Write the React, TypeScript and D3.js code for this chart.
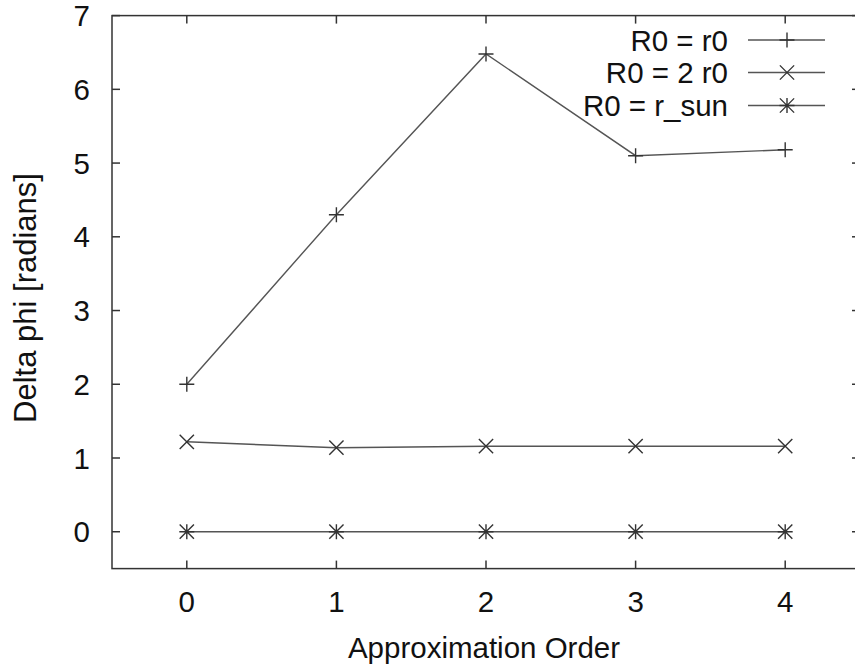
import React, { useEffect, useRef } from "react";
import * as d3 from "d3";

const orders = [0, 1, 2, 3, 4];
const seriesR0 = [2.0, 4.3, 6.48, 5.1, 5.18];
const series2R0 = [1.22, 1.14, 1.16, 1.16, 1.16];
const seriesSun = [0, 0, 0, 0, 0];
const legendLabels = ["R0 = r0", "R0 = 2 r0", "R0 = r_sun"];
const markerTypes = ["plus", "cross", "star"];
const yTicks = [0, 1, 2, 3, 4, 5, 6, 7];

const W = 855;
const H = 669;
const FONT = "'Liberation Sans', Arial, sans-serif";

const App: React.FC = () => {
  const svgRef = useRef<SVGSVGElement>(null);

  useEffect(() => {
    if (!svgRef.current) return;
    const svg = d3.select(svgRef.current);
    svg.selectAll("*").remove();

    const left = 112;
    const right = 860;
    const top = 15.6;
    const bottom = 568.6;

    const x = d3.scaleLinear().domain([-0.5, 4.5]).range([left, right]);
    const y = d3.scaleLinear().domain([-0.5, 7]).range([bottom, top]);

    const frameColor = "#333";
    const lineColor = "#555";
    const fs = 29.5;

    // markers
    const drawMarker = (g: any, type: string, cx: number, cy: number) => {
      const s = 7.5;
      const p = d3.path();
      if (type === "plus" || type === "star") {
        p.moveTo(cx - s, cy);
        p.lineTo(cx + s, cy);
        p.moveTo(cx, cy - s);
        p.lineTo(cx, cy + s);
      }
      if (type === "cross" || type === "star") {
        const d = s * 0.95;
        p.moveTo(cx - d, cy - d);
        p.lineTo(cx + d, cy + d);
        p.moveTo(cx - d, cy + d);
        p.lineTo(cx + d, cy - d);
      }
      g.append("path")
        .attr("d", p.toString())
        .attr("stroke", "#333")
        .attr("stroke-width", 1.4)
        .attr("fill", "none");
    };

    // frame
    svg.append("rect")
      .attr("x", left)
      .attr("y", top)
      .attr("width", right - left)
      .attr("height", bottom - top)
      .attr("fill", "none")
      .attr("stroke", frameColor)
      .attr("stroke-width", 1.5);

    const tl = 8;
    const ticks = svg.append("g").attr("stroke", frameColor).attr("stroke-width", 1.5);
    yTicks.forEach(t => {
      ticks.append("line").attr("x1", left).attr("x2", left + tl).attr("y1", y(t)).attr("y2", y(t));
      ticks.append("line").attr("x1", right).attr("x2", right - tl).attr("y1", y(t)).attr("y2", y(t));
      svg.append("text")
        .attr("x", 90)
        .attr("y", y(t))
        .attr("dy", "0.36em")
        .attr("text-anchor", "end")
        .style("font-family", FONT)
        .style("font-size", `${fs}px`)
        .attr("fill", "#111")
        .text(t);
    });
    orders.forEach(t => {
      ticks.append("line").attr("x1", x(t)).attr("x2", x(t)).attr("y1", bottom).attr("y2", bottom - tl);
      ticks.append("line").attr("x1", x(t)).attr("x2", x(t)).attr("y1", top).attr("y2", top + tl);
      svg.append("text")
        .attr("x", x(t))
        .attr("y", 612)
        .attr("text-anchor", "middle")
        .style("font-family", FONT)
        .style("font-size", `${fs}px`)
        .attr("fill", "#111")
        .text(t);
    });

    // axis titles
    svg.append("text")
      .attr("x", (left + 856) / 2)
      .attr("y", 658)
      .attr("text-anchor", "middle")
      .style("font-family", FONT)
      .style("font-size", `${fs}px`)
      .attr("fill", "#111")
      .text("Approximation Order");

    svg.append("text")
      .attr("transform", `translate(36,298) rotate(-90)`)
      .attr("text-anchor", "middle")
      .style("font-family", FONT)
      .style("font-size", "31px")
      .attr("fill", "#111")
      .text("Delta phi [radians]");

    // series
    const allSeries = [seriesR0, series2R0, seriesSun];
    const line = d3.line<number>()
      .x((_, i) => x(orders[i]))
      .y(d => y(d));

    allSeries.forEach((vals, si) => {
      const g = svg.append("g");
      g.append("path")
        .attr("d", line(vals)!)
        .attr("fill", "none")
        .attr("stroke", lineColor)
        .attr("stroke-width", 1.4);
      vals.forEach((v, i) => drawMarker(g, markerTypes[si], x(orders[i]), y(v)));
    });

    // legend
    const legendY = [40, 72.5, 105.5];
    legendLabels.forEach((lab, i) => {
      const ly = legendY[i];
      svg.append("text")
        .attr("x", 728)
        .attr("y", ly)
        .attr("dy", "0.36em")
        .attr("text-anchor", "end")
        .style("font-family", FONT)
        .style("font-size", `${fs}px`)
        .attr("fill", "#111")
        .text(lab);
      const g = svg.append("g");
      g.append("line")
        .attr("x1", 748).attr("x2", 825)
        .attr("y1", ly).attr("y2", ly)
        .attr("stroke", lineColor)
        .attr("stroke-width", 1.4);
      drawMarker(g, markerTypes[i], 787, ly);
    });
  }, []);

  return (
    <svg
      ref={svgRef}
      width={W}
      height={H}
      style={{ position: "absolute", left: 0, top: 0, background: "#fff" }}
    />
  );
};

export default App;
